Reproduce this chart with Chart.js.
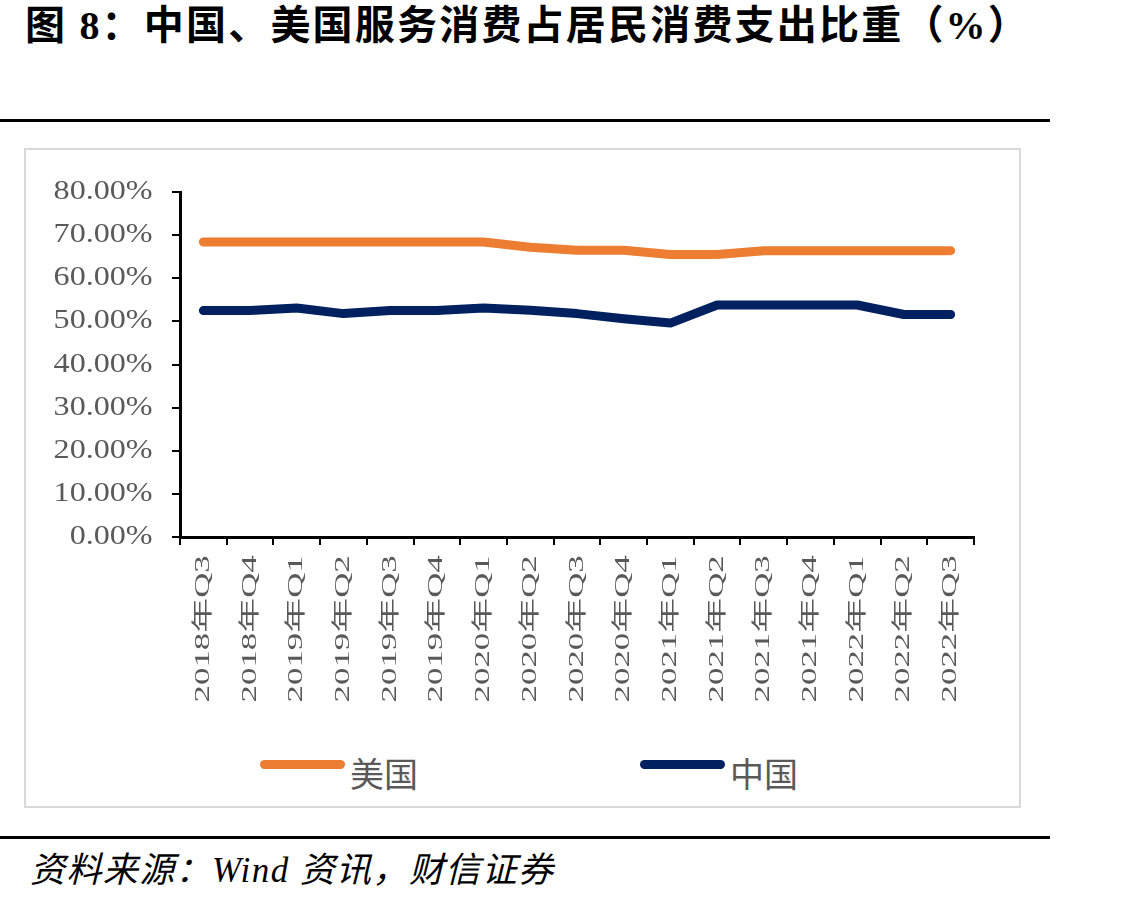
<!DOCTYPE html>
<html>
<head>
<meta charset="utf-8">
<script src="https://cdn.jsdelivr.net/npm/chart.js@4.4.0/dist/chart.umd.min.js"></script>
<style>
  html, body { margin:0; padding:0; background:#fff; }
  body { width:1132px; height:905px; position:relative; overflow:hidden; }
  #title { position:absolute; left:25px; top:6px; font-weight:bold; font-size:40px; line-height:40px;
           font-family:"Liberation Serif","Noto Sans CJK SC"; letter-spacing:2.2px; color:#000; white-space:nowrap; }
  .rule { position:absolute; left:0; width:1050px; height:3px; background:#000; }
  #box { position:absolute; left:24px; top:148px; width:993px; height:656px; border:2px solid #d9d9d9; }
  #chartWrap { position:absolute; left:0; top:0; width:993px; height:562px; }
  .lg-line { position:absolute; height:9px; border-radius:4.5px; }
  .lg-text { position:absolute; font-family:"Noto Sans CJK SC"; font-size:34px; line-height:34px; color:#595959; white-space:nowrap; }
  #footer { position:absolute; left:30px; top:853px; font-style:italic; font-size:35px; line-height:35px;
            font-family:"Liberation Serif","Noto Sans CJK SC"; letter-spacing:1.4px; color:#000; white-space:nowrap; }
</style>
</head>
<body>
<div id="title">图 8：中国、美国服务消费占居民消费支出比重（%）</div>
<div class="rule" style="top:119px"></div>
<div id="box">
  <div id="chartWrap"><canvas id="c" width="993" height="562"></canvas></div>
  <div class="lg-line" style="left:234px; top:610px; width:85px; background:#ED7D31"></div>
  <div class="lg-text" style="left:324px; top:606px">美国</div>
  <div class="lg-line" style="left:614px; top:610px; width:85px; background:#002060"></div>
  <div class="lg-text" style="left:704px; top:606px">中国</div>
</div>
<div class="rule" style="top:836px"></div>
<div id="footer">资料来源：Wind 资讯，财信证券</div>

<script>
const categories = ['2018年Q3','2018年Q4','2019年Q1','2019年Q2','2019年Q3','2019年Q4',
  '2020年Q1','2020年Q2','2020年Q3','2020年Q4','2021年Q1','2021年Q2','2021年Q3','2021年Q4',
  '2022年Q1','2022年Q2','2022年Q3'];
const usa   = [68.4,68.4,68.4,68.4,68.4,68.4,68.4,67.2,66.5,66.5,65.5,65.5,66.4,66.4,66.4,66.4,66.4];
const china = [52.5,52.5,53.1,51.8,52.5,52.5,53.1,52.6,51.8,50.6,49.6,53.8,53.8,53.8,53.8,51.6,51.6];
const yTicks = [0,10,20,30,40,50,60,70,80];

// stretch tick labels along their reading direction, as in the reference
const stretchPlugin = {
  id:'stretch',
  beforeDraw(chart){
    const y = chart.scales.y, x = chart.scales.x;
    if (y && !y._stretched) {
      const orig = y.drawLabels;
      y.drawLabels = function(a){
        const c = this.ctx, ax = this.right;
        c.save(); c.translate(ax, 0); c.scale(1.19, 1); c.translate(-ax, 0);
        orig.call(this, a); c.restore();
      };
      y._stretched = true;
    }
    if (x && !x._stretched) {
      const orig = x.drawLabels;
      x.drawLabels = function(a){
        const c = this.ctx, ay = this.top;
        c.save(); c.translate(0, ay); c.scale(1, 1.66); c.translate(0, -ay);
        orig.call(this, a); c.restore();
      };
      x._stretched = true;
    }
  }
};

new Chart(document.getElementById('c'), {
  type:'line',
  data:{
    labels:categories,
    datasets:[
      { label:'美国', data:usa, borderColor:'#ED7D31', backgroundColor:'#ED7D31', borderWidth:9,
        pointRadius:0, borderCapStyle:'round', borderJoinStyle:'round', tension:0 },
      { label:'中国', data:china, borderColor:'#002060', backgroundColor:'#002060', borderWidth:9,
        pointRadius:0, borderCapStyle:'round', borderJoinStyle:'round', tension:0 }
    ]
  },
  options:{
    responsive:false, animation:false, devicePixelRatio:1,
    layout:{ padding:{ top:42, right:45, left:0, bottom:0 } },
    plugins:{ legend:{ display:false }, tooltip:{ enabled:false } },
    scales:{
      x:{
        offset:true,
        grid:{ offset:true, drawOnChartArea:false, drawTicks:true, tickLength:8, color:'#000', lineWidth:2 },
        border:{ color:'#000', width:3 },
        ticks:{ autoSkip:false, maxRotation:90, minRotation:90, padding:3, color:'#595959',
                font:{ family:'"Liberation Serif","Noto Sans CJK SC"', size:21 } },
        afterFit(s){ s.height = 175; }
      },
      y:{
        min:0, max:80,
        afterBuildTicks(s){ s.ticks = yTicks.map(v => ({ value:v })); },
        grid:{ drawOnChartArea:false, drawTicks:true, tickLength:8, color:'#000', lineWidth:2 },
        border:{ color:'#000', width:3 },
        ticks:{ padding:15, color:'#595959', font:{ family:'"Liberation Serif","Noto Sans CJK SC"', size:27 },
                callback:v => Number(v).toFixed(2) + '%' },
        afterFit(s){ s.width = 154; }
      }
    }
  },
  plugins:[stretchPlugin]
});
</script>
</body>
</html>
